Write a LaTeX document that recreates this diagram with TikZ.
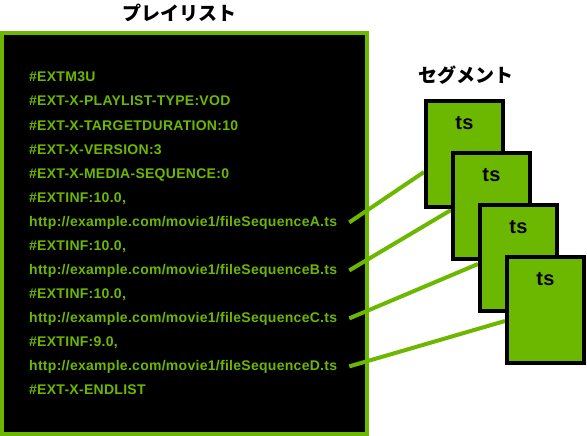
\documentclass[tikz,border=0pt]{standalone}
\usepackage{fontspec}
\setmainfont{Liberation Sans}
\newfontfamily\codefont{Liberation Sans}[LetterSpace=2]
\newfontfamily\jpfont{Noto Sans CJK JP}
\usetikzlibrary{positioning,backgrounds}
\definecolor{hlsgreen}{RGB}{108,184,0}

\begin{document}
\begin{tikzpicture}[x=1pt,y=-1pt,
    playline/.style={anchor=base west,inner sep=0pt,text=hlsgreen,
      font=\codefont\fontsize{14}{14}\selectfont\bfseries},
    segbox/.style={draw=black,line width=4pt,fill=hlsgreen,
      minimum width=77pt,minimum height=106pt,inner sep=0pt},
    segtext/.style={font=\codefont\fontsize{20}{20}\selectfont\bfseries},
    heading/.style={font=\jpfont\fontsize{19}{19}\selectfont\bfseries},
    link/.style={draw=hlsgreen,line width=4pt}]
 \useasboundingbox (0,0) rectangle (587,436);
 \node[heading] (title-list) at (179,13) {プレイリスト};
 \node[heading] (title-seg) at (466,75) {セグメント};
 % playlist lines
 \foreach \L [count=\Z] in {\#EXTM3U,
   \#EXT-X-PLAYLIST-TYPE:VOD,
   \#EXT-X-TARGETDURATION:10,
   \#EXT-X-VERSION:3,
   \#EXT-X-MEDIA-SEQUENCE:0,
   {\#EXTINF:10.0,},
   {http://example.com/movie1/fileSequenceA.ts},
   {\#EXTINF:10.0,},
   {http://example.com/movie1/fileSequenceB.ts},
   {\#EXTINF:10.0,},
   {http://example.com/movie1/fileSequenceC.ts},
   {\#EXTINF:9.0,},
   {http://example.com/movie1/fileSequenceD.ts},
   \#EXT-X-ENDLIST}
 \node[playline] (l-\Z) at (29,{58+24*\Z}) {\L};
 % segments
 \foreach \Z in {1,...,4}
 {\node[segbox] (s-\Z) at ({464.5+27*(\Z-1)},{154+52*(\Z-1)}) {};
  \node[segtext] (t-\Z) at ([yshift=-24pt]s-\Z.north) {ts};}
 \begin{scope}[on background layer]
  \draw[line width=4pt,draw=hlsgreen,fill=black] (2,33) rectangle (367,434);
  \foreach \A/\B/\D in {7/1/18pt,9/2/4pt,11/3/6pt,13/4/11pt}
   \draw[link] ([xshift=12pt]l-\A.east) -- ([yshift=-\D]s-\B.west);
 \end{scope}
\end{tikzpicture}
\end{document}
